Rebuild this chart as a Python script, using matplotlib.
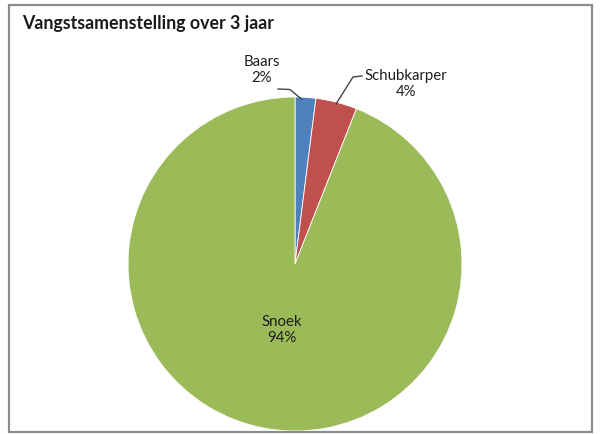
import numpy as np
import matplotlib.pyplot as plt
from matplotlib.patches import Rectangle

title = "Vangstsamenstelling over 3 jaar"
categories = ["Baars", "Schubkarper", "Snoek"]
values = [2, 4, 94]
colors = ["#4F81BD", "#C0504D", "#9BBB59"]

W, H = 603, 434
fig = plt.figure(figsize=(W / 100, H / 100), dpi=100)
ax = fig.add_axes([0, 0, 1, 1])

FONT = ["Lato", "DejaVu Sans"]

cx, cy, r = 295, H - 264, 167
wedges, _ = ax.pie(values, colors=colors, startangle=90, counterclock=False,
                   center=(cx, cy), radius=r, frame=True,
                   wedgeprops=dict(linewidth=0.6, edgecolor="white"))
ax.set_xlim(0, W)
ax.set_ylim(0, H)
ax.set_aspect("equal")
ax.axis("off")

# outer border
ax.add_patch(Rectangle((8.5, 2.5), 583, 427, fill=False, edgecolor="#8c8c8c", lw=1.6))

ax.text(22, H - 24, title, fontsize=12.8, fontweight="bold", family=FONT,
        color="#1a1a1a", ha="left", va="center")

def edge_point(w, frac=1.0):
    ang = np.deg2rad((w.theta1 + w.theta2) / 2)
    return cx + r * frac * np.cos(ang), cy + r * frac * np.sin(ang)

lc = "#444444"
tc = "#1e1e1e"
fs = 10.8
# Baars
px, py = edge_point(wedges[0], 0.99)
ax.plot([278, 290, px - 4], [H - 89, H - 89.5, py], color=lc, lw=1)
ax.text(262, H - 70, f"{categories[0]}\n{values[0]}%", fontsize=fs, family=FONT,
        ha="center", va="center", color=tc, linespacing=1.2)
# Schubkarper
px, py = edge_point(wedges[1], 0.99)
ax.plot([362, 353, px], [H - 76, H - 77, py], color=lc, lw=1)
ax.text(406, H - 84, f"{categories[1]}\n{values[1]}%", fontsize=fs, family=FONT,
        ha="center", va="center", color=tc, linespacing=1.2)
# Snoek
ax.text(282, H - 330, f"{categories[2]}\n{values[2]}%", fontsize=fs, family=FONT,
        ha="center", va="center", color=tc, linespacing=1.2)

fig.savefig("out.png", dpi=100, facecolor="white")
